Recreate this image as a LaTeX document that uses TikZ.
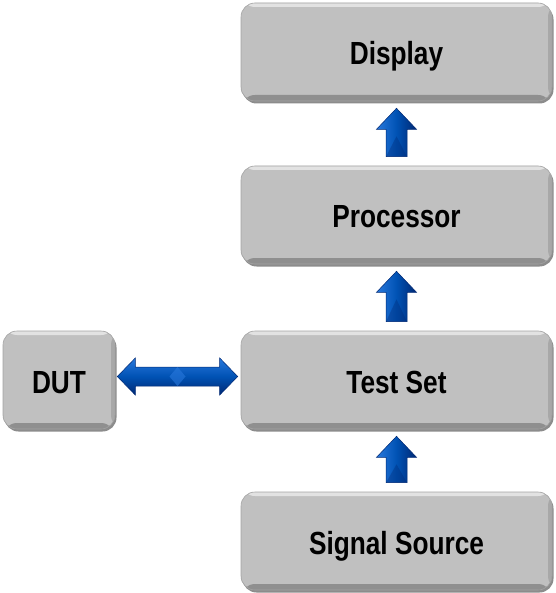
\documentclass[tikz,border=0pt]{standalone}
\usepackage{fontspec}
\setmainfont[FakeStretch=0.82]{Liberation Sans}
\usetikzlibrary{calc,shadows}
\definecolor{boxgray}{RGB}{192,192,192}
\definecolor{arrblue}{RGB}{0,82,180}
\definecolor{arrdark}{RGB}{0,40,115}
\definecolor{arrlight}{RGB}{40,120,220}
\newcommand\blockup[2]{%
  \path ($(#1.north)+(0,-9)$) coordinate (b) ($(#2.south)+(0,7)$) coordinate (t);
  \shade[arrowfill] ($(b)+(-10.5,0)$) -- ($(t)+(-10.5,21)$) -- ($(t)+(-20,21)$) -- (t)
     -- ($(t)+(20,21)$) -- ($(t)+(10.5,21)$) -- ($(b)+(10.5,0)$) -- cycle;
  \fill[arrdark,opacity=0.35] ($(b)+(-10.5,0)$) -- ($(t)+(0,28)$) -- ($(b)+(10.5,0)$) -- cycle;
}
\begin{document}
\begin{tikzpicture}[x=1pt,y=-1pt,
  blockbox/.style={fill=boxgray, draw=boxgray!85!black, line width=0.6pt,
    rounded corners=14pt, minimum width=311pt, minimum height=98pt,
    inner sep=0pt, text=black, font=\bfseries\fontsize{32}{34}\selectfont,
    text height=26pt, text depth=0pt,
    drop shadow={shadow xshift=1.5pt, shadow yshift=-2.5pt, fill=black, opacity=0.45},
    path picture={
      \fill[white,opacity=0.55] (path picture bounding box.north west) rectangle ($(path picture bounding box.north east)+(0,4)$);
      \fill[black,opacity=0.25] ($(path picture bounding box.south west)+(0,-6)$) rectangle (path picture bounding box.south east);
      \fill[black,opacity=0.12] ($(path picture bounding box.north east)+(-4,0)$) rectangle (path picture bounding box.south east);
    }},
  arrowfill/.style={left color=arrlight, right color=arrdark, middle color=arrblue, draw=arrdark, line width=0.5pt}]
\useasboundingbox (0,0) rectangle (555,593);
\node[blockbox] (disp) at (396.5,52) {Display};
\node[blockbox] (proc) at (396.5,215) {Processor};
\node[blockbox] (test) at (396.5,380) {Test Set};
\node[blockbox] (src) at (396.5,541) {Signal Source};
\node[blockbox, minimum width=112pt] (dut) at (59,380) {DUT};
\blockup{proc}{disp}
\blockup{test}{proc}
\blockup{src}{test}
% double arrow DUT <-> Test Set
\path ($(dut.east)+(2,-3.5)$) coordinate (l) ($(test.west)+(-3,-3.5)$) coordinate (r);
\shade[top color=arrlight, bottom color=arrdark, middle color=arrblue, draw=arrdark, line width=0.5pt]
  (l) -- ($(l)+(18,-18.5)$) -- ($(l)+(18,-9.5)$) -- ($(r)+(-18,-9.5)$) -- ($(r)+(-18,-18.5)$) -- (r)
  -- ($(r)+(-18,18.5)$) -- ($(r)+(-18,9.5)$) -- ($(l)+(18,9.5)$) -- ($(l)+(18,18.5)$) -- cycle;
\fill[arrlight,opacity=0.6] ($(l)!0.5!(r)+(-8,0)$) -- ($(l)!0.5!(r)+(0,-9.5)$) -- ($(l)!0.5!(r)+(8,0)$) -- ($(l)!0.5!(r)+(0,9.5)$) -- cycle;
\end{tikzpicture}
\end{document}
